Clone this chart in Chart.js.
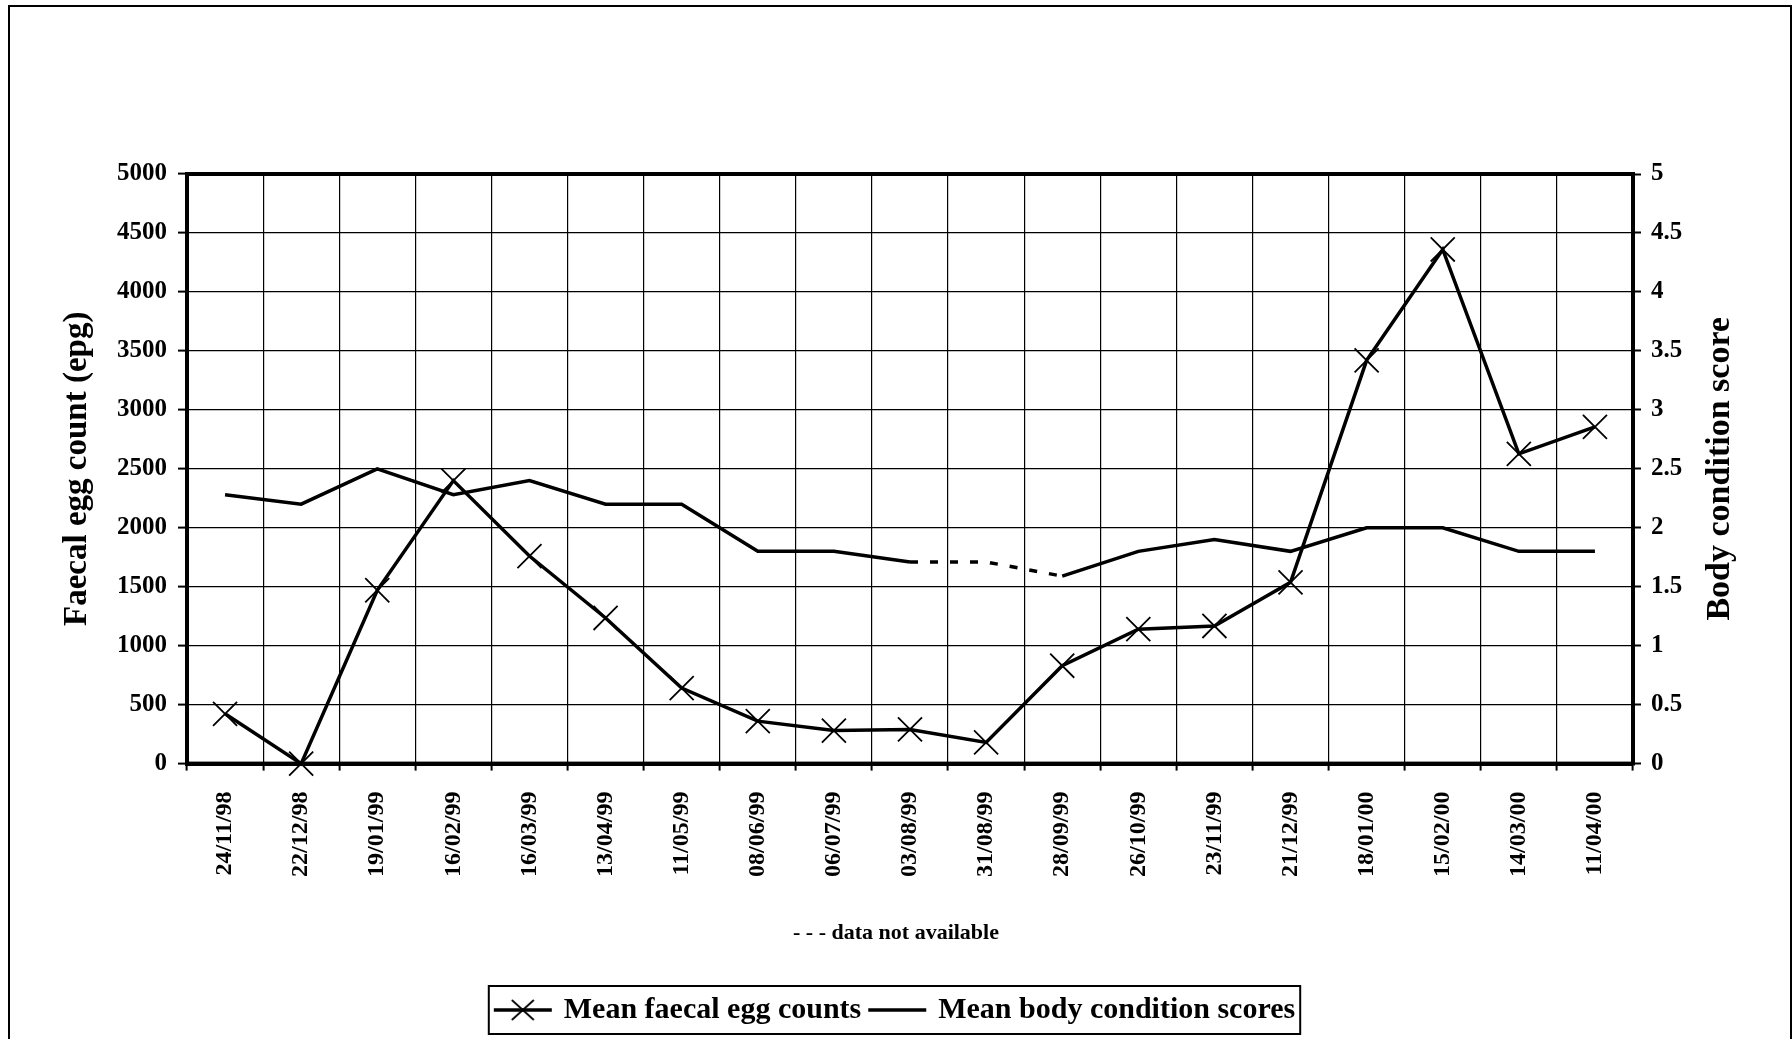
<!DOCTYPE html>
<html>
<head>
<meta charset="utf-8">
<script src="https://cdn.jsdelivr.net/npm/chart.js@4.4.0/dist/chart.umd.min.js"></script>
<style>
  html, body { margin: 0; padding: 0; background: #fff; overflow: hidden; }
  #frame { position: absolute; left: 8px; top: 5px; width: 1780px; height: 1100px; border: 2px solid #000; }
  #chart { position: absolute; left: 0; top: 0; }
</style>
</head>
<body>
<div id="frame"></div>
<canvas id="chart" width="1792" height="1039"></canvas>
<script>
/* global Chart */

const dates = ['24/11/98', '22/12/98', '19/01/99', '16/02/99', '16/03/99', '13/04/99', '11/05/99',
  '08/06/99', '06/07/99', '03/08/99', '31/08/99', '28/09/99', '26/10/99', '23/11/99', '21/12/99',
  '18/01/00', '15/02/00', '14/03/00', '11/04/00']
const eggCounts = [422, 0, 1470, 2400, 1760, 1235, 640, 360, 280, 290, 180, 830, 1140, 1167, 1537,
  3420, 4360, 2627, 2855]
const bodyScores = [2.28, 2.2, 2.5, 2.28, 2.4, 2.2, 2.2, 1.8, 1.8, 1.71, 1.71, 1.59, 1.8, 1.9, 1.8,
  2.0, 2.0, 1.8, 1.8]
const eggTicks = [0, 500, 1000, 1500, 2000, 2500, 3000, 3500, 4000, 4500, 5000]
const scoreTicks = [0, 0.5, 1, 1.5, 2, 2.5, 3, 3.5, 4, 4.5, 5]
// body score segments starting at these points have no data (dashed)
const missingFrom = [9, 10]

const serif = "'Liberation Serif', 'Times New Roman', serif"
Chart.defaults.font.family = serif
Chart.defaults.color = '#000'

// legend symbol: a short line, with a cross for the egg counts
function legendIcon (withCross) {
  const c = document.createElement('canvas')
  c.width = 62
  c.height = 30
  const g = c.getContext('2d')
  g.strokeStyle = '#000'
  g.lineWidth = 3.5
  g.beginPath()
  g.moveTo(2, 15)
  g.lineTo(60, 15)
  g.stroke()
  if (withCross) {
    g.lineWidth = 1.8
    g.beginPath()
    g.moveTo(20, 5); g.lineTo(42, 25)
    g.moveTo(42, 5); g.lineTo(20, 25)
    g.stroke()
  }
  return c
}

const decorations = {
  id: 'decorations',
  beforeDatasetsDraw (chart) {
    const {ctx, chartArea: a} = chart
    ctx.save()
    ctx.lineWidth = 4
    ctx.strokeStyle = '#000'
    ctx.strokeRect(a.left, a.top, a.right - a.left, a.bottom - a.top)
    ctx.restore()
  },
  afterDraw (chart) {
    const {ctx, chartArea: a} = chart
    // right title reads bottom-to-top like the left one
    ctx.save()
    ctx.font = `bold 34px ${serif}`
    ctx.fillStyle = '#000'
    ctx.textAlign = 'center'
    ctx.textBaseline = 'middle'
    ctx.translate(chart.scales.y1.right - 72, (a.top + a.bottom) / 2)
    ctx.rotate(-Math.PI / 2)
    ctx.fillText('Body condition score', 0, 0)
    ctx.restore()

    // box round the legend
    const boxes = chart.legend.legendHitBoxes
    if (!boxes || !boxes.length) return
    const l = Math.min(...boxes.map(b => b.left)) - 8
    const r = Math.max(...boxes.map(b => b.left + b.width)) + 5
    const t = Math.min(...boxes.map(b => b.top)) - 9
    const btm = Math.max(...boxes.map(b => b.top + b.height)) + 9
    ctx.save()
    ctx.lineWidth = 2
    ctx.strokeStyle = '#000'
    ctx.strokeRect(l, t, r - l, btm - t)
    ctx.restore()
  },
}

const ctx = document.getElementById('chart').getContext('2d')
// eslint-disable-next-line no-unused-vars
const chart = new Chart(ctx, {
  type: 'line',
  data: {
    labels: dates,
    datasets: [{
      label: 'Mean faecal egg counts',
      data: eggCounts,
      yAxisID: 'y',
      borderColor: '#000',
      borderWidth: 3.5,
      pointStyle: 'crossRot',
      pointRadius: 17,
      pointBorderWidth: 1.8,
      pointBorderColor: '#000',
      pointBackgroundColor: '#000',
      tension: 0,
      clip: false,
    }, {
      label: 'Mean body condition scores',
      data: bodyScores,
      yAxisID: 'y1',
      borderColor: '#000',
      borderWidth: 3.5,
      pointRadius: 0,
      tension: 0,
      segment: {
        borderDash: c => missingFrom.includes(c.p0DataIndex) ? [8, 12] : undefined,
      },
    }],
  },
  options: {
    responsive: false,
    animation: false,
    layout: {padding: {top: 174, bottom: 4, left: 0, right: 0}},
    scales: {
      x: {
        offset: true,
        grid: {offset: true, color: '#000', lineWidth: 1.2, tickLength: 7, tickWidth: 2},
        border: {color: '#000', width: 4},
        ticks: {
          autoSkip: false, maxRotation: 90, minRotation: 90, padding: 21,
          font: {size: 24, weight: 'bold'}, color: '#000',
        },
        afterFit (scale) { scale.height = 113 },
      },
      y: {
        position: 'left',
        min: 0,
        max: 5000,
        afterBuildTicks (scale) { scale.ticks = eggTicks.map(v => ({value: v})) },
        grid: {color: '#000', lineWidth: 1.2, tickLength: 9, tickWidth: 2},
        border: {color: '#000', width: 4},
        ticks: {padding: 11, font: {size: 25, weight: 'bold'}, color: '#000', callback: v => String(v)},
        title: {
          display: true, text: 'Faecal egg count (epg)', color: '#000',
          font: {size: 33, weight: 'bold'}, padding: {top: 58, bottom: 0},
        },
        afterFit (scale) { scale.width = 187 },
      },
      y1: {
        position: 'right',
        min: 0,
        max: 5,
        afterBuildTicks (scale) { scale.ticks = scoreTicks.map(v => ({value: v})) },
        grid: {drawOnChartArea: false, color: '#000', tickLength: 8, tickWidth: 2},
        border: {color: '#000', width: 4},
        ticks: {padding: 10, font: {size: 25, weight: 'bold'}, color: '#000', callback: v => String(v)},
        afterFit (scale) { scale.width = 159 },
      },
    },
    plugins: {
      tooltip: {enabled: false},
      subtitle: {
        display: true,
        position: 'bottom',
        text: '- - - data not available',
        color: '#000',
        font: {size: 22, weight: 'bold'},
        padding: {top: 44, bottom: 38},
      },
      legend: {
        position: 'bottom',
        weight: 3000,
        labels: {
          usePointStyle: true,
          pointStyleWidth: 52,
          padding: 10,
          color: '#000',
          font: {size: 30, weight: 'bold'},
          generateLabels: c => c.data.datasets.map((ds, i) => ({
            text: ds.label,
            pointStyle: legendIcon(i === 0),
            fillStyle: '#000',
            strokeStyle: '#000',
            lineWidth: 0,
            fontColor: '#000',
            hidden: false,
            datasetIndex: i,
          })),
        },
      },
    },
  },
  plugins: [decorations],
})
</script>
</body>
</html>
